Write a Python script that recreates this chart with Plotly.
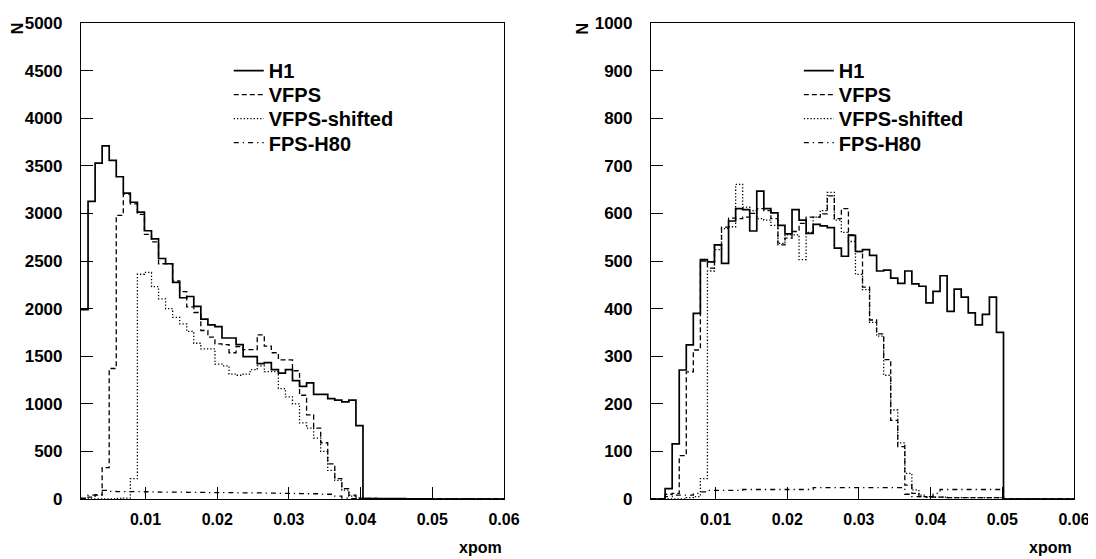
import numpy as np
import plotly.graph_objects as go
from plotly.subplots import make_subplots

# ---------------- data ----------------
x_min, x_max, n_bins = 0.001, 0.06, 60
x_tick_vals = [0.01, 0.02, 0.03, 0.04, 0.05, 0.06]
x_tick_text = ["0.01", "0.02", "0.03", "0.04", "0.05", "0.06"]
series_names = ["H1", "VFPS", "VFPS-shifted", "FPS-H80"]

# left panel (per bin, starting at x_min)
left_h1 = [1990, 3127, 3529, 3709, 3557, 3385, 3213, 3117, 3013, 2818,
           2732, 2526, 2471, 2275, 2114, 2127, 2024, 1890, 1828, 1811,
           1691, 1691, 1622, 1495, 1495, 1423, 1433, 1358, 1323, 1358,
           1244, 1182, 1220, 1100, 1100, 1055, 1038, 1021, 1038, 770,
           5, 4, 4, 3, 3, 3, 2, 2, 2, 2]
left_vfps = [0, 20, 40, 330, 1371, 2980, 3203, 3100, 2990, 2780,
             2700, 2471, 2471, 2290, 2179, 2018, 1959, 1770, 1700, 1629,
             1622, 1536, 1600, 1570, 1570, 1725, 1605, 1536, 1461, 1461,
             1347, 1090, 884, 745, 591, 368, 213, 110, 41, 10,
             6, 5, 4, 4, 3, 3, 3, 2, 2, 2]
left_vfps_shifted = [0, 0, 0, 0, 0, 5, 10, 213, 2361, 2380,
                     2230, 2103, 2000, 1907, 1840, 1760, 1636, 1577, 1577, 1416,
                     1399, 1312, 1300, 1312, 1358, 1399, 1337, 1337, 1160, 1072,
                     1000, 800, 745, 640, 500, 300, 196, 93, 30, 10,
                     6, 5, 4, 4, 3, 3, 3, 2, 2, 2]
left_fps_h80 = [10, 40, 45, 90, 80, 78, 78, 78, 78, 76,
                75, 72, 72, 72, 72, 70, 70, 70, 68, 68,
                66, 66, 65, 65, 64, 64, 62, 62, 60, 60,
                58, 56, 55, 55, 52, 50, 30, 10, 4, 3,
                3, 3, 3, 3, 3, 3, 3, 3, 3, 3]

# right panel
right_h1 = [0, 0, 22, 116, 271, 324, 390, 503, 498, 534,
            495, 584, 610, 608, 563, 647, 610, 601, 575, 557,
            608, 586, 558, 577, 574, 570, 527, 510, 554, 520,
            524, 512, 479, 481, 464, 453, 479, 452, 447, 412,
            436, 469, 394, 441, 424, 391, 366, 388, 424, 350]
right_vfps = [0, 0, 10, 12, 91, 267, 313, 500, 485, 534,
              571, 590, 589, 592, 600, 610, 606, 589, 534, 548,
              562, 579, 592, 592, 599, 637, 589, 610, 555, 520,
              445, 376, 347, 293, 165, 110, 29, 12, 5, 4,
              4, 4, 3, 3, 3, 3, 3, 3, 3, 3]
right_vfps_shifted = [0, 0, 0, 0, 0, 3, 5, 43, 479, 524,
                      568, 572, 661, 613, 606, 589, 586, 575, 537, 555,
                      555, 503, 560, 592, 606, 644, 586, 560, 541, 472,
                      440, 371, 342, 260, 187, 118, 54, 19, 8, 5,
                      4, 4, 3, 3, 3, 3, 3, 3, 3, 3]
right_fps_h80 = [0, 0, 5, 8, 8, 8, 12, 15, 18, 18,
                 18, 18, 18, 20, 20, 20, 20, 20, 20, 20,
                 20, 20, 20, 24, 24, 24, 24, 24, 24, 24,
                 24, 24, 24, 24, 24, 24, 10, 5, 5, 5,
                 12, 20, 20, 20, 20, 20, 20, 20, 20, 20]

# ---------------- styling ----------------
FONT = "Liberation Sans, Arial, Helvetica, sans-serif"
styles = [
    dict(color="black", width=1.7, dash="solid"),
    dict(color="black", width=1.3, dash="5px,3px"),
    dict(color="black", width=1.3, dash="1.3px,2px"),
    dict(color="black", width=1.3, dash="5px,4px,1.3px,4px"),
]

edges = np.linspace(x_min, x_max, n_bins + 1)


def step_xy(values):
    vals = list(values) + [0] * (n_bins - len(values))
    return list(edges), vals + [0]


# page body has an 8px margin; compensate so the plot area lands where intended
W, H = 1088, 551
fig = make_subplots(rows=1, cols=2, horizontal_spacing=0.1481)

legend_ids = [["legend", "legend2", "legend3", "legend4"],
              ["legend5", "legend6", "legend7", "legend8"]]
panels = [
    (1, [left_h1, left_vfps, left_vfps_shifted, left_fps_h80]),
    (2, [right_h1, right_vfps, right_vfps_shifted, right_fps_h80]),
]
for col, data in panels:
    for name, vals, st, leg in zip(series_names, data, styles, legend_ids[col - 1]):
        xs, ys = step_xy(vals)
        fig.add_trace(
            go.Scatter(x=xs, y=ys, mode="lines", line_shape="hv", name=name,
                       line=st, legend=leg, hoverinfo="skip"),
            row=1, col=col)

xfont = dict(family=FONT, size=16, color="black", weight="bold")
yfont = dict(family=FONT, size=17, color="black", weight="bold")
for col in (1, 2):
    fig.update_xaxes(row=1, col=col, range=[x_min, x_max], tickvals=x_tick_vals,
                     ticktext=x_tick_text, ticks="inside", ticklen=12,
                     tickwidth=1, tickcolor="black", showline=True,
                     linecolor="black", linewidth=1.2, mirror=True,
                     showgrid=False, zeroline=False, tickfont=xfont,
                     ticklabelstandoff=6, ticklabeloverflow="allow")
fig.update_yaxes(row=1, col=1, range=[0, 5000], dtick=500)
fig.update_yaxes(row=1, col=2, range=[0, 1000], dtick=100)
fig.update_yaxes(ticks="inside", ticklen=12, tickwidth=1, tickcolor="black",
                 showline=True, linecolor="black", linewidth=1.2, mirror=True,
                 showgrid=False, zeroline=False, tickfont=yfont,
                 ticklabelstandoff=14, ticklabeloverflow="allow")

leg_common = dict(xanchor="left", yanchor="middle", bgcolor="rgba(0,0,0,0)",
                  borderwidth=0,
                  font=dict(family=FONT, size=20, color="black", weight="bold"))
row_y = [0.900, 0.8495, 0.799, 0.7485]
leg_x = [0.1488, 0.7229]
layout_legends = {}
for p in range(2):
    for r in range(4):
        layout_legends[legend_ids[p][r]] = dict(x=leg_x[p], y=row_y[r], **leg_common)

fig.update_layout(
    width=W, height=H,
    margin=dict(l=73, r=20, t=6, b=60),
    paper_bgcolor="white", plot_bgcolor="white",
    showlegend=True,
    **layout_legends,
)

title_font = dict(family=FONT, size=16, color="black", weight="bold")
for xp in (-0.0743, 0.5055):
    fig.add_annotation(text="N", xref="paper", yref="paper", x=xp, y=1.005,
                       textangle=-90, showarrow=False, font=title_font)
for xp in (0.4261, 1.0):
    fig.add_annotation(text="xpom", xref="paper", yref="paper", x=xp, y=-0.101,
                       xanchor="right", yanchor="middle", showarrow=False,
                       font=title_font)

fig.write_html("out.html")
